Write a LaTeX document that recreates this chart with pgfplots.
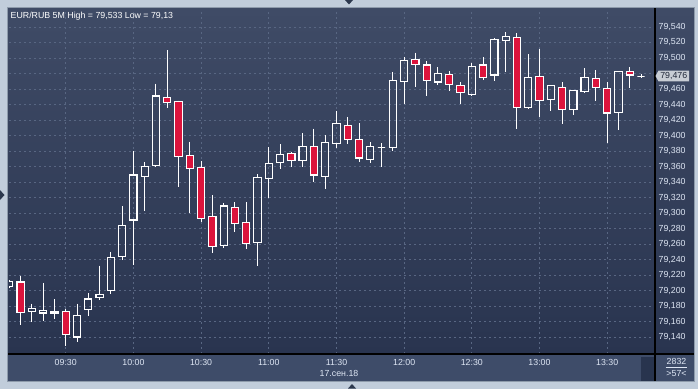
\documentclass[border=0pt]{standalone}
\usepackage{pgfplots}
\pgfplotsset{compat=1.18}
\usepackage{pgfplotstable}
\usepackage{fontspec}
\setmainfont{Liberation Sans}
\definecolor{framec}{RGB}{193,205,219}
\definecolor{frameline}{RGB}{142,155,171}
\definecolor{bgtop}{RGB}{63,75,102}
\definecolor{bgbot}{RGB}{41,52,79}
\definecolor{panel}{RGB}{62,76,105}
\definecolor{darkbox}{RGB}{40,52,78}
\definecolor{gridc}{RGB}{88,102,130}
\definecolor{lbl}{RGB}{222,230,244}
\definecolor{candred}{RGB}{220,20,60}
\definecolor{pricebox}{RGB}{200,205,212}
\definecolor{tri}{RGB}{44,56,78}
\newcommand\fsz{\fontsize{8.8}{10}\selectfont}

\pgfplotstableread{
n o h l c
-5 79.205 79.213 79.204 79.212
-4 79.211 79.219 79.156 79.172
-3 79.173 79.183 79.159 79.177
-2 79.171 79.210 79.161 79.174
-1 79.171 79.189 79.163 79.173
0 79.173 79.176 79.129 79.143
1 79.140 79.183 79.133 79.168
2 79.175 79.197 79.167 79.189
3 79.191 79.232 79.188 79.195
4 79.200 79.250 79.196 79.243
5 79.244 79.309 79.240 79.284
6 79.291 79.380 79.233 79.349
7 79.347 79.366 79.302 79.360
8 79.361 79.467 79.359 79.451
9 79.449 79.510 79.436 79.443
10 79.444 79.445 79.334 79.373
11 79.374 79.392 79.300 79.358
12 79.359 79.367 79.288 79.293
13 79.295 79.323 79.249 79.257
14 79.258 79.313 79.255 79.309
15 79.307 79.314 79.275 79.287
16 79.288 79.314 79.254 79.261
17 79.262 79.350 79.231 79.346
18 79.345 79.385 79.320 79.364
19 79.365 79.389 79.357 79.375
20 79.377 79.379 79.359 79.368
21 79.368 79.403 79.359 79.386
22 79.386 79.409 79.340 79.349
23 79.347 79.400 79.331 79.391
24 79.390 79.431 79.384 79.415
25 79.413 79.424 79.389 79.395
26 79.395 79.416 79.366 79.371
27 79.369 79.391 79.365 79.386
28 79.385 79.390 79.359 79.385
29 79.384 79.482 79.380 79.471
30 79.470 79.501 79.440 79.497
31 79.498 79.507 79.462 79.492
32 79.491 79.496 79.451 79.471
33 79.469 79.488 79.465 79.480
34 79.479 79.483 79.458 79.466
35 79.465 79.469 79.440 79.455
36 79.453 79.493 79.451 79.489
37 79.491 79.501 79.472 79.475
38 79.478 79.526 79.470 79.524
39 79.523 79.533 79.482 79.528
40 79.527 79.532 79.409 79.436
41 79.436 79.505 79.435 79.475
42 79.476 79.512 79.424 79.445
43 79.447 79.464 79.432 79.464
44 79.462 79.469 79.415 79.433
45 79.433 79.459 79.427 79.458
46 79.457 79.487 79.455 79.475
47 79.474 79.484 79.445 79.462
48 79.461 79.469 79.390 79.429
49 79.430 79.483 79.407 79.482
50 79.483 79.488 79.461 79.478
51 79.476 79.479 79.474 79.476
}\candles

\begin{document}
\begin{tikzpicture}
\begin{scope}[x=1pt,y=1pt]
\useasboundingbox (0,0) rectangle (698,389);
\fill[framec] (0,0) rectangle (698,389);
\shade[top color=bgtop, bottom color=bgbot] (8,35) rectangle (694,381);
\fill[panel] (8,8) rectangle (694,35);
\fill[darkbox] (641,8) rectangle (655,32);
\draw[frameline, line width=0.8] (7.6,7.6) rectangle (694.4,381.4);
\end{scope}
\begin{axis}[
  at={(9pt,35pt)}, anchor=south west,
  scale only axis, width=646pt, height=345pt,
  xmin=-5.03, xmax=52.24, ymin=79.1181, ymax=79.5632,
  axis line style={draw=none}, tick style={draw=none},
  major tick length=0pt,
  grid=major,
  grid style={gridc, dash pattern=on 2pt off 3pt, line width=0.8pt},
  xtick={0,6,12,18,24,30,36,42,48},
  xticklabels={09:30,10:00,10:30,11:00,11:30,12:00,12:30,13:00,13:30},
  ytick={79.14,79.16,79.18,79.20,79.22,79.24,79.26,79.28,79.30,79.32,79.34,79.36,79.38,79.40,79.42,79.44,79.46,79.48,79.50,79.52,79.54},
  yticklabels={{79,140},{79,160},{79,180},{79,200},{79,220},{79,240},{79,260},{79,280},{79,300},{79,320},{79,340},{79,360},{79,380},{79,400},{79,420},{79,440},{79,460},{},{79,500},{79,520},{79,540}},
  scaled y ticks=false,
  yticklabel pos=right,
  yticklabel style={anchor=west, inner sep=0pt, xshift=3.5pt, font=\fsz, text=lbl},
  xticklabel style={anchor=base, inner sep=0pt, yshift=-11.7pt, font=\fsz, text=lbl},
  wick/.style={white, line width=1pt},
  body/.style={draw=white, line width=1.1pt},
]
\pgfplotstablegetrowsof{\candles}
\pgfmathtruncatemacro\N{\pgfplotsretval-1}
\pgfplotsforeachungrouped \i in {0,...,\N}{%
  \pgfplotstablegetelem{\i}{n}\of\candles \let\cn\pgfplotsretval
  \pgfplotstablegetelem{\i}{o}\of\candles \let\co\pgfplotsretval
  \pgfplotstablegetelem{\i}{h}\of\candles \let\ch\pgfplotsretval
  \pgfplotstablegetelem{\i}{l}\of\candles \let\cl\pgfplotsretval
  \pgfplotstablegetelem{\i}{c}\of\candles \let\cc\pgfplotsretval
  \pgfmathsetmacro\xl{\cn-0.32}%
  \pgfmathsetmacro\xr{\cn+0.32}%
  \pgfmathsetmacro\bmax{max(\co,\cc)}%
  \pgfmathsetmacro\bmin{min(\co,\cc)}%
  \pgfmathparse{\cc<\co ? 1 : 0}%
  \ifdim\pgfmathresult pt>0.5pt \def\fc{candred}\else \def\fc{none}\fi
  \edef\temp{%
    \noexpand\addplot[wick] coordinates {(\cn,\ch) (\cn,\bmax)};
    \noexpand\addplot[wick] coordinates {(\cn,\bmin) (\cn,\cl)};
    \noexpand\addplot[body, fill=\fc] coordinates {(\xl,\co) (\xr,\co) (\xr,\cc) (\xl,\cc)} -- cycle;
  }\temp
}
\end{axis}
\begin{scope}[x=1pt,y=1pt]
\draw[black, line width=1.2] (8,35) -- (694,35);
\draw[black, line width=1.2] (655,8) -- (655,381);
\fill[pricebox] (655.5,313) -- (658.5,318.3) -- (689,318.3) -- (689,307.7) -- (658.5,307.7) -- cycle;
\node[anchor=center, inner sep=0pt, text={rgb,255:red,30;green,38;blue,55}, font=\fsz] at (673.8,313) {79,476};
\node[anchor=base west, inner sep=0pt, text=white, font=\fsz] at (10.5,370.8) {EUR/RUB 5M High = 79,533 Low = 79,13};
\node[anchor=base, inner sep=0pt, text=lbl, font=\fsz] at (339,12.5) {17.сен.18};
\node[anchor=base, inner sep=0pt, text=lbl, font=\fsz] at (676.5,24.5) {2832};
\draw[lbl, line width=0.7] (665.7,21.3) -- (687,21.3);
\node[anchor=base, inner sep=0pt, text=lbl, font=\fsz] at (676.5,12.2) {>57<};
\fill[tri] (345,389) -- (353,389) -- (349,384.5) -- cycle;
\fill[tri] (0,199) -- (0,189) -- (4.5,194) -- cycle;
\fill[tri] (348,0.5) -- (356,0.5) -- (352,5) -- cycle;
\end{scope}
\end{tikzpicture}
\end{document}
